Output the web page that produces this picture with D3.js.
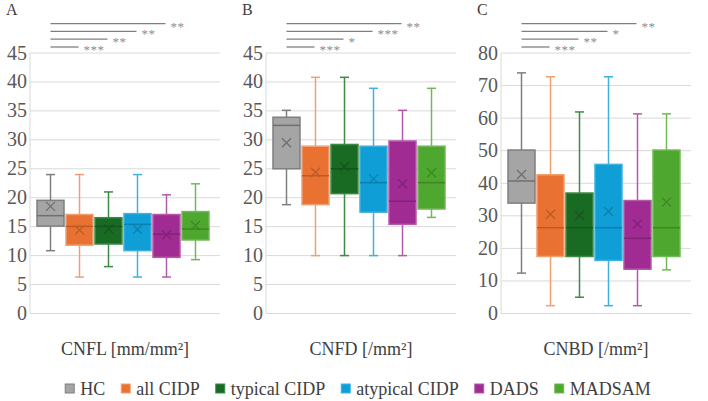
<!DOCTYPE html>
<html><head><meta charset="utf-8">
<script src="https://cdn.jsdelivr.net/npm/d3@7"></script>
<style>body{margin:0;background:#fff}svg{display:block}</style>
</head><body>
<svg id="c" width="708" height="401"></svg>
<script>
const groups = ["HC","all CIDP","typical CIDP","atypical CIDP","DADS","MADSAM"];
const fillColors = ["#a5a5a5","#e97132","#196b24","#0f9ed5","#a02b93","#4ea72e"];
const lineColors = ["#7f7f7f","#f0a070","#3d8a47","#3fb1df","#b55aa9","#71b957"];
// [min, q1, median, q3, max, mean]
const cnflStats = [
  [10.85,15.1,16.9,19.55,24.0,18.5],
  [6.3,11.8,15.05,17.1,24.0,14.4],
  [8.1,12.0,15.05,16.55,21.0,14.6],
  [6.3,10.85,15.4,17.25,24.0,14.5],
  [6.3,9.7,13.7,17.1,20.5,13.6],
  [9.3,12.7,14.6,17.6,22.4,15.2]
];
const cnfdStats = [
  [18.8,25.0,32.5,33.9,35.1,29.5],
  [10.0,18.8,23.8,28.9,40.8,24.4],
  [10.0,20.7,25.0,29.2,40.8,25.4],
  [10.0,17.5,22.6,28.9,38.9,23.3],
  [10.0,15.4,19.4,29.8,35.1,22.4],
  [16.6,18.05,22.6,28.9,38.9,24.3]
];
const cnbdStats = [
  [12.4,33.9,40.7,50.2,73.9,42.7],
  [2.4,17.5,26.35,42.6,72.7,30.5],
  [5.0,17.5,26.35,37.0,61.9,30.1],
  [2.4,16.3,26.35,45.8,72.7,31.3],
  [2.4,13.6,23.1,34.7,61.3,27.5],
  [13.4,17.5,26.35,50.2,61.3,34.2]
];
const cnflTicks = [0,5,10,15,20,25,30,35,40,45];
const cnfdTicks = [0,5,10,15,20,25,30,35,40,45];
const cnbdTicks = [0,10,20,30,40,50,60,70,80];
const cnflSig = ["***","**","**","**"];
const cnfdSig = ["***","*","***","**"];
const cnbdSig = ["***","**","*","**"];
const panelLetters = ["A","B","C"];
const axisTitles = ["CNFL [mm/mm²]","CNFD [/mm²]","CNBD [/mm²]"];

const panels = [
  {stats:cnflStats, ticks:cnflTicks, sig:cnflSig, max:45},
  {stats:cnfdStats, ticks:cnfdTicks, sig:cnfdSig, max:45},
  {stats:cnbdStats, ticks:cnbdTicks, sig:cnbdSig, max:80}
];
const lefts = [30, 266, 501];
const plotW = 190, plotTop = 53, plotBottom = 313.5;
const FF = '"Times New Roman"';
const svg = d3.select("#c");

panels.forEach((p, pi) => {
  const L = lefts[pi];
  const y = d3.scaleLinear().domain([0, p.max]).range([plotBottom, plotTop]);
  const x = d3.scaleBand().domain(groups).range([L+7, L+179]).paddingInner(2/29).paddingOuter(0);
  const bw = x.bandwidth();
  const g = svg.append("g");
  g.selectAll("line.grid").data(p.ticks).join("line")
    .attr("x1", L).attr("x2", L+plotW)
    .attr("y1", d=>y(d)).attr("y2", d=>y(d))
    .attr("stroke", "#d9d9d9").attr("stroke-width", 1);
  g.append("line").attr("x1", L).attr("x2", L).attr("y1", plotTop).attr("y2", plotBottom)
    .attr("stroke", "#d9d9d9");
  g.selectAll("text.tick").data(p.ticks).join("text")
    .attr("x", L-3).attr("y", d=>y(d)+6.5)
    .attr("text-anchor","end")
    .style("font-family", FF).style("font-size", "20px")
    .attr("fill", "#595959").text(d=>d);
  p.stats.forEach((s, i) => {
    const cx = x(groups[i]) + bw/2;
    const fc = fillColors[i], lc = lineColors[i];
    const dark = i===0 ? "#6f6f6f" : d3.color(fc).darker(0.6).formatHex();
    const cap = 4.5;
    g.append("line").attr("x1", cx).attr("x2", cx).attr("y1", y(s[4])).attr("y2", y(s[3]))
      .attr("stroke", lc).attr("stroke-width", 1.5);
    g.append("line").attr("x1", cx).attr("x2", cx).attr("y1", y(s[1])).attr("y2", y(s[0]))
      .attr("stroke", lc).attr("stroke-width", 1.5);
    g.append("line").attr("x1", cx-cap).attr("x2", cx+cap).attr("y1", y(s[4])).attr("y2", y(s[4]))
      .attr("stroke", lc).attr("stroke-width", 1.5);
    g.append("line").attr("x1", cx-cap).attr("x2", cx+cap).attr("y1", y(s[0])).attr("y2", y(s[0]))
      .attr("stroke", lc).attr("stroke-width", 1.5);
    g.append("rect").attr("x", x(groups[i])).attr("width", bw)
      .attr("y", y(s[3])).attr("height", y(s[1]) - y(s[3]))
      .attr("fill", fc).attr("stroke", lc).attr("stroke-width", 1.5);
    g.append("line").attr("x1", x(groups[i])).attr("x2", x(groups[i])+bw)
      .attr("y1", y(s[2])).attr("y2", y(s[2]))
      .attr("stroke", dark).attr("stroke-width", 1.5);
    const m = 4.5, my = y(s[5]);
    g.append("path").attr("d", `M${cx-m},${my-m}L${cx+m},${my+m}M${cx-m},${my+m}L${cx+m},${my-m}`)
      .attr("stroke", dark).attr("stroke-width", 1.3).attr("fill","none");
  });
  const sx = x(groups[0]) + bw/2;
  p.sig.forEach((st, k) => {
    const ex = x(groups[k+1]) + bw/2 - 1;
    const ly = 47 - k*7.8;
    g.append("line").attr("x1", sx).attr("x2", ex).attr("y1", ly).attr("y2", ly)
      .attr("stroke", "#7f7f7f").attr("stroke-width", 1.3);
    g.append("text").attr("x", ex+5).attr("y", ly+7)
      .style("font-family", FF).style("font-size", "13px").attr("fill", "#8c8c8c")
      .attr("letter-spacing", 0.5).text(st);
  });
  svg.append("text").attr("x", L-24).attr("y", 15)
    .style("font-family", FF).style("font-size", "16px").attr("fill", "#404040").text(panelLetters[pi]);
  svg.append("text").attr("x", L+plotW/2).attr("y", 355).attr("text-anchor","middle")
    .style("font-family", FF).style("font-size", "18px").attr("fill", "#404040").text(axisTitles[pi]);
});

const lg = svg.append("g");
let cur = 0;
groups.forEach((name, i) => {
  const it = lg.append("g");
  it.append("rect").attr("x", 0).attr("y", -11).attr("width", 9).attr("height", 9)
    .attr("fill", fillColors[i]).attr("stroke", lineColors[i]).attr("stroke-width", 1);
  const t = it.append("text").attr("x", 15).attr("y", 0)
    .style("font-family", FF).style("font-size", "18px").attr("fill", "#404040").text(name);
  const w = 15 + t.node().getComputedTextLength();
  it.attr("transform", `translate(${cur},395)`);
  cur += w + 16;
});
const total = cur - 16;
lg.attr("transform", `translate(${358 - total/2},0)`);
</script>
</body></html>
